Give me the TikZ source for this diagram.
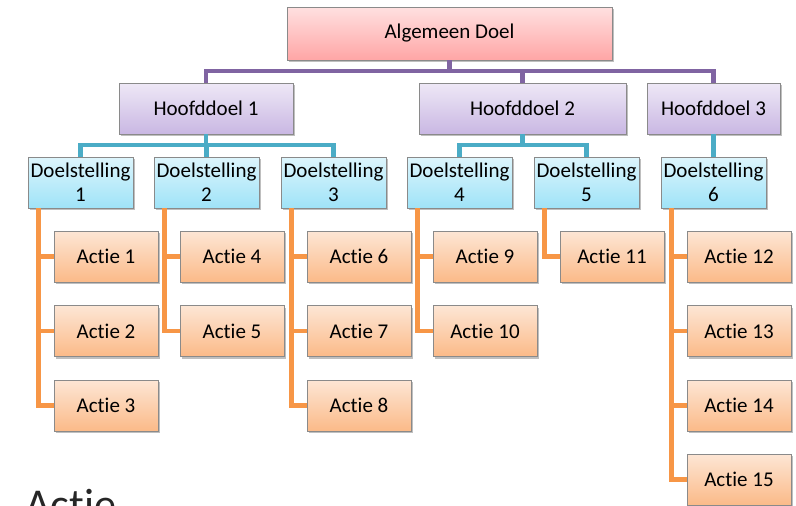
\documentclass[tikz,border=0pt]{standalone}
\usepackage{fontspec}
\setmainfont{Carlito}[Ligatures=NoCommon]
\usetikzlibrary{shadows}
\definecolor{purpline}{HTML}{8064A2}
\definecolor{tealline}{HTML}{4BACC6}
\definecolor{oranline}{HTML}{F79646}
\definecolor{boxedge}{HTML}{8A8A8A}
\definecolor{HoofdTop}{HTML}{EEE8F6}
\definecolor{HoofdBot}{HTML}{C9B7E3}
\definecolor{DoelTop}{HTML}{DDF5FC}
\definecolor{DoelBot}{HTML}{9FE3F8}
\definecolor{ActTop}{HTML}{FDE6D5}
\definecolor{ActBot}{HTML}{FBBA88}
\tikzset{
  x=1pt,y=-1pt,
  basebox/.style={rectangle, draw=boxedge, line width=0.8pt, inner sep=1pt,
    font=\fontsize{21}{24}\selectfont, text=black, align=center,
    drop shadow={shadow xshift=1.5pt, shadow yshift=-2pt, opacity=0.25, fill=black}},
  topbox/.style={basebox, top color=red!12, bottom color=red!35!white, minimum width=325pt, minimum height=53pt},
  hoofdbox/.style={basebox, top color=HoofdTop, bottom color=HoofdBot, minimum height=51pt},
  doelbox/.style={basebox, top color=DoelTop, bottom color=DoelBot, minimum width=105pt, minimum height=51pt},
  actiebox/.style={basebox, top color=ActTop, bottom color=ActBot, minimum width=104pt, minimum height=51pt},
  purpconn/.style={draw=purpline, line width=4.5pt},
  tealconn/.style={draw=tealline, line width=4.5pt},
  oranconn/.style={draw=oranline, line width=4.5pt},
}
\begin{document}
\begin{tikzpicture}
\clip (0,0) rectangle (796,506);
\fill[white] (0,0) rectangle (796,506);
\coordinate (pbus) at (0,71);
\coordinate (tbus) at (0,145);
\node[topbox] (alg) at (449.5,33.5) {Algemeen Doel};
\node[hoofdbox, minimum width=174pt] (h1) at (206,108.5) {Hoofddoel 1};
\node[hoofdbox, minimum width=207pt] (h2) at (522.5,108.5) {Hoofddoel 2};
\node[hoofdbox, minimum width=133pt] (h3) at (713.5,108.5) {Hoofddoel 3};
\node[doelbox] (d1) at (80.5,182.5) {Doelstelling\\1};
\node[doelbox] (d2) at (206.5,182.5) {Doelstelling\\2};
\node[doelbox] (d3) at (333.5,182.5) {Doelstelling\\3};
\node[doelbox] (d4) at (459.5,182.5) {Doelstelling\\4};
\node[doelbox] (d5) at (586.5,182.5) {Doelstelling\\5};
\node[doelbox] (d6) at (713.5,182.5) {Doelstelling\\6};
\node[actiebox] (a1) at (106,256.5) {Actie 1};
\node[actiebox] (a2) at (106,331) {Actie 2};
\node[actiebox] (a3) at (106,405.5) {Actie 3};
\node[actiebox] (a4) at (232,256.5) {Actie 4};
\node[actiebox] (a5) at (232,331) {Actie 5};
\node[actiebox] (a6) at (359,256.5) {Actie 6};
\node[actiebox] (a7) at (359,331) {Actie 7};
\node[actiebox] (a8) at (359,405.5) {Actie 8};
\node[actiebox] (a9) at (485,256.5) {Actie 9};
\node[actiebox] (a10) at (485,331) {Actie 10};
\node[actiebox] (a11) at (612,256.5) {Actie 11};
\node[actiebox] (a12) at (739,256.5) {Actie 12};
\node[actiebox] (a13) at (739,331) {Actie 13};
\node[actiebox] (a14) at (739,405.5) {Actie 14};
\node[actiebox] (a15) at (739,479.5) {Actie 15};
% purple
\path[purpconn] (alg.south) -- (alg.south |- pbus);
\path[purpconn] (h1.north) |- (h3.north |- pbus) -- (h3.north);
\path[purpconn] (h2.north) -- (h2.north |- pbus);
% teal
\path[tealconn] (h1.south) -- (h1.south |- tbus);
\path[tealconn] (d1.north) |- (d3.north |- tbus) -- (d3.north);
\path[tealconn] (d2.north) -- (d2.north |- tbus);
\path[tealconn] (h2.south) -- (h2.south |- tbus);
\path[tealconn] (d4.north) |- (d5.north |- tbus) -- (d5.north);
\path[tealconn] (h3.south) -- (d6.north);
% orange
\foreach \d/\a in {d1/a1,d1/a2,d1/a3,d2/a4,d2/a5,d3/a6,d3/a7,d3/a8,d4/a9,d4/a10,d5/a11,d6/a12,d6/a13,d6/a14,d6/a15}
  \path[oranconn] ([xshift=11pt]\d.south west) |- (\a.west);
% bottom label (cut off at the lower edge, as in the reference)
\node[anchor=base west, inner sep=0pt, text=black!85, font=\fontsize{44}{50}\selectfont] (lbl) at (25,519) {Actie};
\end{tikzpicture}
\end{document}
